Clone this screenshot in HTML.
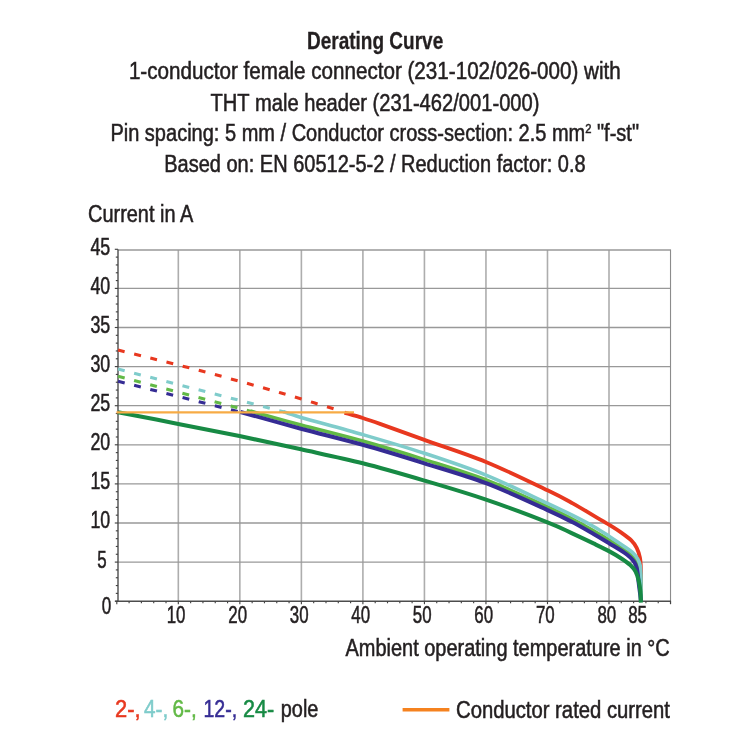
<!DOCTYPE html>
<html lang="en"><head><meta charset="utf-8"><title>Derating Curve</title>
<style>html,body{margin:0;padding:0;background:#fff;}svg{display:block;will-change:transform;}text{font-family:'Liberation Sans', Arial, Helvetica, sans-serif;}</style></head><body>
<svg width="750" height="750" viewBox="0 0 750 750">
<rect width="750" height="750" fill="#ffffff"/>
<text x="307.00" y="49.10" font-size="24.20" font-weight="bold" fill="#231f20" stroke="#231f20" stroke-width="0.30" textLength="136.20" lengthAdjust="spacingAndGlyphs">Derating Curve</text>
<text x="128.90" y="79.30" font-size="24.20" font-weight="normal" fill="#231f20" stroke="#231f20" stroke-width="0.55" textLength="491.90" lengthAdjust="spacingAndGlyphs">1-conductor female connector (231-102/026-000) with</text>
<text x="210.50" y="110.50" font-size="24.20" font-weight="normal" fill="#231f20" stroke="#231f20" stroke-width="0.55" textLength="329.00" lengthAdjust="spacingAndGlyphs">THT male header (231-462/001-000)</text>
<text x="110.40" y="141.00" font-size="24.20" font-weight="normal" fill="#231f20" stroke="#231f20" stroke-width="0.55" textLength="528.60" lengthAdjust="spacingAndGlyphs">Pin spacing: 5 mm / Conductor cross-section: 2.5 mm<tspan dy="-8" font-size="13.5">2</tspan><tspan dy="8"> &quot;f-st&quot;</tspan></text>
<text x="164.20" y="171.50" font-size="24.20" font-weight="normal" fill="#231f20" stroke="#231f20" stroke-width="0.55" textLength="421.40" lengthAdjust="spacingAndGlyphs">Based on: EN 60512-5-2 / Reduction factor: 0.8</text>
<text x="88.10" y="222.00" font-size="24.20" font-weight="normal" fill="#231f20" stroke="#231f20" stroke-width="0.55" textLength="105.10" lengthAdjust="spacingAndGlyphs">Current in A</text>
<g stroke="#adadad" stroke-width="1.6"><line x1="178.32" y1="250.00" x2="178.32" y2="601.20"/><line x1="239.85" y1="250.00" x2="239.85" y2="601.20"/><line x1="301.38" y1="250.00" x2="301.38" y2="601.20"/><line x1="362.90" y1="250.00" x2="362.90" y2="601.20"/><line x1="424.43" y1="250.00" x2="424.43" y2="601.20"/><line x1="485.95" y1="250.00" x2="485.95" y2="601.20"/><line x1="547.48" y1="250.00" x2="547.48" y2="601.20"/><line x1="609.00" y1="250.00" x2="609.00" y2="601.20"/></g>
<g stroke="#999999" stroke-width="1.3"><line x1="118.00" y1="562.10" x2="670.52" y2="562.10"/><line x1="118.00" y1="523.00" x2="670.52" y2="523.00"/><line x1="118.00" y1="483.90" x2="670.52" y2="483.90"/><line x1="118.00" y1="444.80" x2="670.52" y2="444.80"/><line x1="118.00" y1="405.70" x2="670.52" y2="405.70"/><line x1="118.00" y1="366.60" x2="670.52" y2="366.60"/><line x1="118.00" y1="327.50" x2="670.52" y2="327.50"/><line x1="118.00" y1="288.40" x2="670.52" y2="288.40"/><line x1="118.00" y1="250.00" x2="670.52" y2="250.00"/></g>
<line x1="670.52" y1="249.40" x2="670.52" y2="604.00" stroke="#8c8c8c" stroke-width="1.1"/>
<line x1="118.00" y1="249.40" x2="118.00" y2="601.90" stroke="#4d4d4d" stroke-width="1.4"/>
<line x1="115.20" y1="601.20" x2="671.02" y2="601.20" stroke="#4d4d4d" stroke-width="1.4"/>
<g stroke="#444444" stroke-width="1.15"><line x1="114.80" y1="601.20" x2="118.00" y2="601.20"/><line x1="115.80" y1="593.38" x2="118.00" y2="593.38"/><line x1="115.80" y1="585.56" x2="118.00" y2="585.56"/><line x1="115.80" y1="577.74" x2="118.00" y2="577.74"/><line x1="115.80" y1="569.92" x2="118.00" y2="569.92"/><line x1="114.80" y1="562.10" x2="118.00" y2="562.10"/><line x1="115.80" y1="554.28" x2="118.00" y2="554.28"/><line x1="115.80" y1="546.46" x2="118.00" y2="546.46"/><line x1="115.80" y1="538.64" x2="118.00" y2="538.64"/><line x1="115.80" y1="530.82" x2="118.00" y2="530.82"/><line x1="114.80" y1="523.00" x2="118.00" y2="523.00"/><line x1="115.80" y1="515.18" x2="118.00" y2="515.18"/><line x1="115.80" y1="507.36" x2="118.00" y2="507.36"/><line x1="115.80" y1="499.54" x2="118.00" y2="499.54"/><line x1="115.80" y1="491.72" x2="118.00" y2="491.72"/><line x1="114.80" y1="483.90" x2="118.00" y2="483.90"/><line x1="115.80" y1="476.08" x2="118.00" y2="476.08"/><line x1="115.80" y1="468.26" x2="118.00" y2="468.26"/><line x1="115.80" y1="460.44" x2="118.00" y2="460.44"/><line x1="115.80" y1="452.62" x2="118.00" y2="452.62"/><line x1="114.80" y1="444.80" x2="118.00" y2="444.80"/><line x1="115.80" y1="436.98" x2="118.00" y2="436.98"/><line x1="115.80" y1="429.16" x2="118.00" y2="429.16"/><line x1="115.80" y1="421.34" x2="118.00" y2="421.34"/><line x1="115.80" y1="413.52" x2="118.00" y2="413.52"/><line x1="114.80" y1="405.70" x2="118.00" y2="405.70"/><line x1="115.80" y1="397.88" x2="118.00" y2="397.88"/><line x1="115.80" y1="390.06" x2="118.00" y2="390.06"/><line x1="115.80" y1="382.24" x2="118.00" y2="382.24"/><line x1="115.80" y1="374.42" x2="118.00" y2="374.42"/><line x1="114.80" y1="366.60" x2="118.00" y2="366.60"/><line x1="115.80" y1="358.78" x2="118.00" y2="358.78"/><line x1="115.80" y1="350.96" x2="118.00" y2="350.96"/><line x1="115.80" y1="343.14" x2="118.00" y2="343.14"/><line x1="115.80" y1="335.32" x2="118.00" y2="335.32"/><line x1="114.80" y1="327.50" x2="118.00" y2="327.50"/><line x1="115.80" y1="319.68" x2="118.00" y2="319.68"/><line x1="115.80" y1="311.86" x2="118.00" y2="311.86"/><line x1="115.80" y1="304.04" x2="118.00" y2="304.04"/><line x1="115.80" y1="296.22" x2="118.00" y2="296.22"/><line x1="114.80" y1="288.40" x2="118.00" y2="288.40"/><line x1="115.80" y1="280.58" x2="118.00" y2="280.58"/><line x1="115.80" y1="272.76" x2="118.00" y2="272.76"/><line x1="115.80" y1="264.94" x2="118.00" y2="264.94"/><line x1="115.80" y1="257.12" x2="118.00" y2="257.12"/><line x1="114.80" y1="249.30" x2="118.00" y2="249.30"/><line x1="116.80" y1="601.20" x2="116.80" y2="604.20"/><line x1="129.10" y1="601.20" x2="129.10" y2="603.30"/><line x1="141.41" y1="601.20" x2="141.41" y2="603.30"/><line x1="153.72" y1="601.20" x2="153.72" y2="603.30"/><line x1="166.02" y1="601.20" x2="166.02" y2="603.30"/><line x1="178.32" y1="601.20" x2="178.32" y2="604.20"/><line x1="190.63" y1="601.20" x2="190.63" y2="603.30"/><line x1="202.94" y1="601.20" x2="202.94" y2="603.30"/><line x1="215.24" y1="601.20" x2="215.24" y2="603.30"/><line x1="227.55" y1="601.20" x2="227.55" y2="603.30"/><line x1="239.85" y1="601.20" x2="239.85" y2="604.20"/><line x1="252.15" y1="601.20" x2="252.15" y2="603.30"/><line x1="264.46" y1="601.20" x2="264.46" y2="603.30"/><line x1="276.76" y1="601.20" x2="276.76" y2="603.30"/><line x1="289.07" y1="601.20" x2="289.07" y2="603.30"/><line x1="301.38" y1="601.20" x2="301.38" y2="604.20"/><line x1="313.68" y1="601.20" x2="313.68" y2="603.30"/><line x1="325.99" y1="601.20" x2="325.99" y2="603.30"/><line x1="338.29" y1="601.20" x2="338.29" y2="603.30"/><line x1="350.59" y1="601.20" x2="350.59" y2="603.30"/><line x1="362.90" y1="601.20" x2="362.90" y2="604.20"/><line x1="375.20" y1="601.20" x2="375.20" y2="603.30"/><line x1="387.51" y1="601.20" x2="387.51" y2="603.30"/><line x1="399.81" y1="601.20" x2="399.81" y2="603.30"/><line x1="412.12" y1="601.20" x2="412.12" y2="603.30"/><line x1="424.43" y1="601.20" x2="424.43" y2="604.20"/><line x1="436.73" y1="601.20" x2="436.73" y2="603.30"/><line x1="449.04" y1="601.20" x2="449.04" y2="603.30"/><line x1="461.34" y1="601.20" x2="461.34" y2="603.30"/><line x1="473.64" y1="601.20" x2="473.64" y2="603.30"/><line x1="485.95" y1="601.20" x2="485.95" y2="604.20"/><line x1="498.25" y1="601.20" x2="498.25" y2="603.30"/><line x1="510.56" y1="601.20" x2="510.56" y2="603.30"/><line x1="522.87" y1="601.20" x2="522.87" y2="603.30"/><line x1="535.17" y1="601.20" x2="535.17" y2="603.30"/><line x1="547.48" y1="601.20" x2="547.48" y2="604.20"/><line x1="559.78" y1="601.20" x2="559.78" y2="603.30"/><line x1="572.08" y1="601.20" x2="572.08" y2="603.30"/><line x1="584.39" y1="601.20" x2="584.39" y2="603.30"/><line x1="596.69" y1="601.20" x2="596.69" y2="603.30"/><line x1="609.00" y1="601.20" x2="609.00" y2="604.20"/><line x1="621.30" y1="601.20" x2="621.30" y2="603.30"/><line x1="633.61" y1="601.20" x2="633.61" y2="603.30"/><line x1="645.91" y1="601.20" x2="645.91" y2="603.30"/><line x1="658.22" y1="601.20" x2="658.22" y2="603.30"/><line x1="670.52" y1="601.20" x2="670.52" y2="604.20"/></g>
<path d="M344.50,412.60 C347.53,413.50 356.78,416.12 362.70,418.00 C368.62,419.88 369.72,420.25 380.00,423.90 C390.28,427.55 406.73,433.57 424.40,439.90 C442.07,446.23 465.48,453.50 486.00,461.90 C506.52,470.30 533.05,483.40 547.50,490.30 C561.95,497.20 564.95,499.03 572.70,503.30 C580.45,507.57 587.88,512.30 594.00,515.90 C600.12,519.50 604.78,522.07 609.40,524.90 C614.02,527.73 618.05,530.32 621.70,532.90 C625.35,535.48 628.80,537.90 631.30,540.40 C633.80,542.90 635.27,545.05 636.70,547.90 C638.13,550.75 639.20,554.13 639.90,557.50 C640.60,560.87 640.70,563.52 640.90,568.10 C641.10,572.68 641.07,579.52 641.10,585.00 C641.13,590.48 641.10,598.33 641.10,601.00" fill="none" stroke="#e8381f" stroke-width="3.80" stroke-linecap="butt" stroke-linejoin="round"/>
<path d="M250.30,411.00 C258.75,413.33 282.27,419.98 301.00,425.00 C319.73,430.02 342.13,435.33 362.70,441.10 C383.27,446.87 403.85,453.12 424.40,459.60 C444.95,466.08 465.48,472.12 486.00,480.00 C506.52,487.88 533.05,500.35 547.50,506.90 C561.95,513.45 564.95,515.28 572.70,519.30 C580.45,523.32 587.88,527.52 594.00,531.00 C600.12,534.48 604.42,537.13 609.40,540.20 C614.38,543.27 620.07,546.87 623.90,549.40 C627.73,551.93 630.17,553.38 632.40,555.40 C634.63,557.42 636.05,559.23 637.30,561.50 C638.55,563.77 639.32,565.92 639.90,569.00 C640.48,572.08 640.62,574.67 640.80,580.00 C640.98,585.33 640.97,597.50 641.00,601.00" fill="none" stroke="#62b946" stroke-width="3.60" stroke-linecap="butt" stroke-linejoin="round"/>
<path d="M283.30,411.60 C286.25,412.57 287.77,413.57 301.00,417.40 C314.23,421.23 342.13,428.62 362.70,434.60 C383.27,440.58 403.85,446.55 424.40,453.30 C444.95,460.05 465.48,466.75 486.00,475.10 C506.52,483.45 533.05,496.68 547.50,503.40 C561.95,510.12 564.95,511.52 572.70,515.40 C580.45,519.28 587.88,523.20 594.00,526.70 C600.12,530.20 604.42,533.15 609.40,536.40 C614.38,539.65 620.07,543.53 623.90,546.20 C627.73,548.87 630.10,550.30 632.40,552.40 C634.70,554.50 636.38,556.53 637.70,558.80 C639.02,561.07 639.77,563.02 640.30,566.00 C640.83,568.98 640.78,570.87 640.90,576.70 C641.02,582.53 640.98,596.95 641.00,601.00" fill="none" stroke="#7fcccb" stroke-width="3.60" stroke-linecap="butt" stroke-linejoin="round"/>
<path d="M240.50,412.00 C250.58,414.78 280.63,423.23 301.00,428.70 C321.37,434.17 342.13,439.03 362.70,444.80 C383.27,450.57 403.85,456.90 424.40,463.30 C444.95,469.70 465.48,475.40 486.00,483.20 C506.52,491.00 533.05,503.58 547.50,510.10 C561.95,516.62 564.95,518.27 572.70,522.30 C580.45,526.33 587.88,530.77 594.00,534.30 C600.12,537.83 604.42,540.48 609.40,543.50 C614.38,546.52 620.38,550.05 623.90,552.40 C627.42,554.75 628.73,555.90 630.50,557.60 C632.27,559.30 633.45,560.83 634.50,562.60 C635.55,564.37 636.23,566.13 636.80,568.20 C637.37,570.27 637.58,572.53 637.90,575.00 C638.22,577.47 638.35,580.00 638.70,583.00 C639.05,586.00 639.63,590.00 640.00,593.00 C640.37,596.00 640.75,599.67 640.90,601.00" fill="none" stroke="#352c94" stroke-width="4.00" stroke-linecap="butt" stroke-linejoin="round"/>
<path d="M118.00,412.20 C128.05,414.15 158.05,419.93 178.30,423.90 C198.55,427.87 219.05,431.77 239.50,436.00 C259.95,440.23 280.47,444.75 301.00,449.30 C321.53,453.85 342.13,458.08 362.70,463.30 C383.27,468.52 403.85,474.55 424.40,480.60 C444.95,486.65 465.48,492.65 486.00,499.60 C506.52,506.55 533.05,516.63 547.50,522.30 C561.95,527.97 564.95,530.03 572.70,533.60 C580.45,537.17 587.88,540.73 594.00,543.70 C600.12,546.67 604.78,548.90 609.40,551.40 C614.02,553.90 618.22,556.43 621.70,558.70 C625.18,560.97 627.98,562.85 630.30,565.00 C632.62,567.15 634.18,568.95 635.60,571.60 C637.02,574.25 638.00,577.57 638.80,580.90 C639.60,584.23 640.05,587.98 640.40,591.60 C640.75,595.22 640.82,600.77 640.90,602.60" fill="none" stroke="#178a44" stroke-width="4.10" stroke-linecap="butt" stroke-linejoin="round"/>
<path d="M118.03,350.08 C122.95,351.28 137.51,354.80 147.56,357.29 C157.61,359.78 168.07,362.41 178.32,365.03 C188.58,367.66 198.83,370.32 209.09,373.04 C219.34,375.76 229.60,378.52 239.85,381.34 C250.10,384.16 260.36,387.03 270.61,389.97 C280.87,392.90 290.81,395.80 301.38,398.96 C311.94,402.12 328.55,407.29 333.98,408.95" fill="none" stroke="#e8381f" stroke-width="3.10" stroke-linecap="butt" stroke-linejoin="round" stroke-dasharray="6.9 9.75"/>
<path d="M118.00,369.00 L284.50,412.00" fill="none" stroke="#7fcccb" stroke-width="3.10" stroke-linecap="butt" stroke-linejoin="round" stroke-dasharray="6.9 9.75"/>
<path d="M118.00,376.30 L251.00,411.40" fill="none" stroke="#62b946" stroke-width="3.10" stroke-linecap="butt" stroke-linejoin="round" stroke-dasharray="6.9 9.75"/>
<path d="M118.00,381.20 L241.50,412.50" fill="none" stroke="#352c94" stroke-width="3.10" stroke-linecap="butt" stroke-linejoin="round" stroke-dasharray="6.9 9.75"/>
<line x1="116.5" y1="412.4" x2="354" y2="412.4" stroke="#f7ab45" stroke-width="2.3"/>
<text x="90.40" y="528.30" font-size="24.20" font-weight="normal" fill="#231f20" stroke="#231f20" stroke-width="0.55" textLength="19.80" lengthAdjust="spacingAndGlyphs">10</text>
<text x="90.40" y="489.20" font-size="24.20" font-weight="normal" fill="#231f20" stroke="#231f20" stroke-width="0.55" textLength="19.80" lengthAdjust="spacingAndGlyphs">15</text>
<text x="90.40" y="450.10" font-size="24.20" font-weight="normal" fill="#231f20" stroke="#231f20" stroke-width="0.55" textLength="19.80" lengthAdjust="spacingAndGlyphs">20</text>
<text x="90.40" y="411.00" font-size="24.20" font-weight="normal" fill="#231f20" stroke="#231f20" stroke-width="0.55" textLength="19.80" lengthAdjust="spacingAndGlyphs">25</text>
<text x="90.40" y="371.90" font-size="24.20" font-weight="normal" fill="#231f20" stroke="#231f20" stroke-width="0.55" textLength="19.80" lengthAdjust="spacingAndGlyphs">30</text>
<text x="90.40" y="332.80" font-size="24.20" font-weight="normal" fill="#231f20" stroke="#231f20" stroke-width="0.55" textLength="19.80" lengthAdjust="spacingAndGlyphs">35</text>
<text x="90.40" y="293.70" font-size="24.20" font-weight="normal" fill="#231f20" stroke="#231f20" stroke-width="0.55" textLength="19.80" lengthAdjust="spacingAndGlyphs">40</text>
<text x="90.40" y="254.60" font-size="24.20" font-weight="normal" fill="#231f20" stroke="#231f20" stroke-width="0.55" textLength="19.80" lengthAdjust="spacingAndGlyphs">45</text>
<text x="97.30" y="567.60" font-size="24.20" font-weight="normal" fill="#231f20" stroke="#231f20" stroke-width="0.55" textLength="9.40" lengthAdjust="spacingAndGlyphs">5</text>
<text x="101.80" y="613.90" font-size="24.20" font-weight="normal" fill="#231f20" stroke="#231f20" stroke-width="0.55" textLength="9.50" lengthAdjust="spacingAndGlyphs">0</text>
<text x="166.72" y="623.20" font-size="24.20" font-weight="normal" fill="#231f20" stroke="#231f20" stroke-width="0.55" textLength="18.80" lengthAdjust="spacingAndGlyphs">10</text>
<text x="228.25" y="623.20" font-size="24.20" font-weight="normal" fill="#231f20" stroke="#231f20" stroke-width="0.55" textLength="18.80" lengthAdjust="spacingAndGlyphs">20</text>
<text x="289.78" y="623.20" font-size="24.20" font-weight="normal" fill="#231f20" stroke="#231f20" stroke-width="0.55" textLength="18.80" lengthAdjust="spacingAndGlyphs">30</text>
<text x="351.30" y="623.20" font-size="24.20" font-weight="normal" fill="#231f20" stroke="#231f20" stroke-width="0.55" textLength="18.80" lengthAdjust="spacingAndGlyphs">40</text>
<text x="412.83" y="623.20" font-size="24.20" font-weight="normal" fill="#231f20" stroke="#231f20" stroke-width="0.55" textLength="18.80" lengthAdjust="spacingAndGlyphs">50</text>
<text x="474.35" y="623.20" font-size="24.20" font-weight="normal" fill="#231f20" stroke="#231f20" stroke-width="0.55" textLength="18.80" lengthAdjust="spacingAndGlyphs">60</text>
<text x="535.88" y="623.20" font-size="24.20" font-weight="normal" fill="#231f20" stroke="#231f20" stroke-width="0.55" textLength="18.80" lengthAdjust="spacingAndGlyphs">70</text>
<text x="597.40" y="623.20" font-size="24.20" font-weight="normal" fill="#231f20" stroke="#231f20" stroke-width="0.55" textLength="18.80" lengthAdjust="spacingAndGlyphs">80</text>
<text x="628.16" y="623.20" font-size="24.20" font-weight="normal" fill="#231f20" stroke="#231f20" stroke-width="0.55" textLength="18.80" lengthAdjust="spacingAndGlyphs">85</text>
<text x="345.50" y="656.00" font-size="24.20" font-weight="normal" fill="#231f20" stroke="#231f20" stroke-width="0.55" textLength="324.20" lengthAdjust="spacingAndGlyphs">Ambient operating temperature in °C</text>
<text x="115.00" y="717.40" font-size="24.20" font-weight="normal" fill="#e8381f" stroke="#e8381f" stroke-width="0.55" textLength="25.60" lengthAdjust="spacingAndGlyphs">2-,</text>
<text x="144.00" y="717.40" font-size="24.20" font-weight="normal" fill="#7fcccb" stroke="#7fcccb" stroke-width="0.55" textLength="24.20" lengthAdjust="spacingAndGlyphs">4-,</text>
<text x="172.50" y="717.40" font-size="24.20" font-weight="normal" fill="#62b946" stroke="#62b946" stroke-width="0.55" textLength="24.20" lengthAdjust="spacingAndGlyphs">6-,</text>
<text x="203.50" y="717.40" font-size="24.20" font-weight="normal" fill="#352c94" stroke="#352c94" stroke-width="0.55" textLength="33.70" lengthAdjust="spacingAndGlyphs">12-,</text>
<text x="243.00" y="717.40" font-size="24.20" font-weight="normal" fill="#178a44" stroke="#178a44" stroke-width="0.55" textLength="31.20" lengthAdjust="spacingAndGlyphs">24-</text>
<text x="280.80" y="717.40" font-size="24.20" font-weight="normal" fill="#231f20" stroke="#231f20" stroke-width="0.55" textLength="37.60" lengthAdjust="spacingAndGlyphs">pole</text>
<line x1="402.6" y1="709.8" x2="449.4" y2="709.8" stroke="#f5821f" stroke-width="3.5"/>
<text x="456.00" y="717.60" font-size="24.20" font-weight="normal" fill="#231f20" stroke="#231f20" stroke-width="0.55" textLength="214.00" lengthAdjust="spacingAndGlyphs">Conductor rated current</text>
</svg></body></html>
